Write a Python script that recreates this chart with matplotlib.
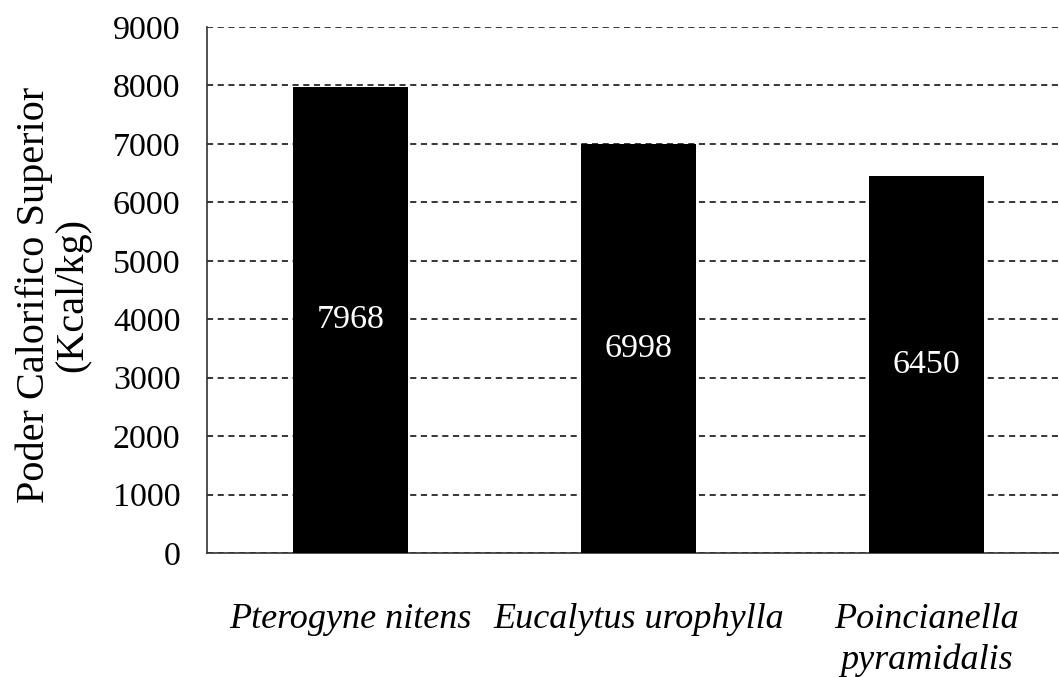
import numpy as np
import matplotlib.pyplot as plt

species = ["Pterogyne nitens", "Eucalytus urophylla", "Poincianella\npyramidalis"]
pcs = [7968, 6998, 6450]
yticks = [0, 1000, 2000, 3000, 4000, 5000, 6000, 7000, 8000, 9000]

plt.rcParams['font.family'] = ['Liberation Serif', 'DejaVu Serif']

fig = plt.figure(figsize=(10.59, 6.77), dpi=100)
ax = fig.add_axes([207 / 1059, 124 / 677, 863 / 1059, 526 / 677])

x = np.arange(len(species))
bars = ax.bar(x, pcs, width=0.40, color="black", zorder=3)
ax.bar_label(bars, labels=[str(v) for v in pcs], label_type="center",
             color="white", fontsize=24.5)

ax.set_xlim(-0.5, 2.5)
ax.set_ylim(0, 9000)
ax.set_yticks(yticks)
ax.tick_params(axis="y", labelsize=24.5, length=0, pad=19)
ax.set_xticks(x)
ax.set_xticklabels(species, fontsize=26, style="italic", va="top", linespacing=1.3)
ax.tick_params(axis="x", length=0, pad=36)

ax.yaxis.grid(True, linestyle=(0, (4, 3)), color="black", linewidth=1.1, zorder=0)
for s in ["top", "right"]:
    ax.spines[s].set_visible(False)
ax.spines["left"].set_linewidth(1.2)
ax.spines["bottom"].set_linewidth(1.2)
ax.spines["left"].set_color("#333333")
ax.spines["bottom"].set_color("#333333")

fig.text(0.05, 0.564, "Poder Calorifico Superior\n(Kcal/kg)", rotation=90,
         ha="center", va="center", fontsize=29, linespacing=1.05)

fig.savefig("out.png", dpi=100)
